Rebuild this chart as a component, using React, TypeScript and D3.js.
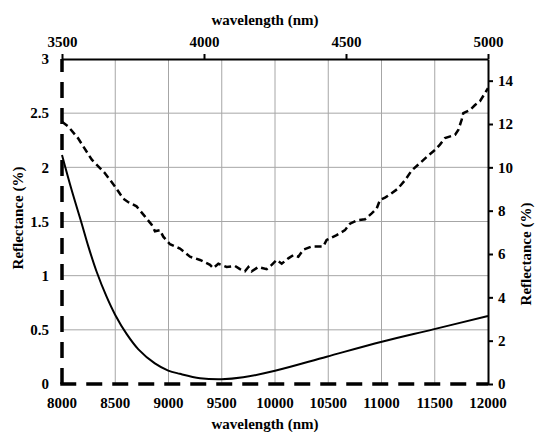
import React, { useRef, useEffect } from "react";
import * as d3 from "d3";

// dashed curve: bottom wavelength axis, left reflectance axis
const dashWl = [8000, 8060, 8150, 8280, 8400, 8500, 8576, 8620, 8700, 8780, 8842, 8873, 8920, 8951, 9014, 9108, 9202, 9296, 9390, 9420, 9468, 9546, 9624, 9671, 9718, 9750, 9781, 9844, 9922, 9969, 10016, 10063, 10125, 10172, 10219, 10266, 10344, 10453, 10485, 10579, 10657, 10704, 10767, 10845, 10908, 10955, 10986, 11033, 11080, 11150, 11220, 11283, 11362, 11440, 11502, 11549, 11596, 11690, 11721, 11753, 11768, 11831, 11878, 11925, 11987, 12000];
const dashRefl = [2.42, 2.375, 2.27, 2.07, 1.95, 1.82, 1.71, 1.68, 1.64, 1.545, 1.47, 1.41, 1.42, 1.36, 1.29, 1.25, 1.175, 1.145, 1.1, 1.07, 1.11, 1.08, 1.09, 1.06, 1.04, 1.08, 1.04, 1.08, 1.06, 1.1, 1.145, 1.11, 1.16, 1.19, 1.175, 1.24, 1.27, 1.27, 1.33, 1.375, 1.42, 1.48, 1.51, 1.52, 1.575, 1.62, 1.7, 1.72, 1.75, 1.8, 1.88, 1.97, 2.04, 2.11, 2.16, 2.21, 2.27, 2.3, 2.345, 2.44, 2.5, 2.53, 2.575, 2.61, 2.71, 2.73];

// solid curve: top wavelength axis, right reflectance axis
const solidWl = [3500, 3534, 3569, 3593, 3622, 3657, 3687, 3728, 3769, 3827, 3874, 3915, 3986, 4062, 4138, 4250, 4432, 4626, 4807, 5000];
const solidRefl = [10.57, 8.95, 7.42, 6.34, 5.18, 4.03, 3.2, 2.3, 1.6, 0.95, 0.62, 0.47, 0.27, 0.22, 0.31, 0.61, 1.26, 1.95, 2.52, 3.14];

const bottomTicks = [8000, 8500, 9000, 9500, 10000, 10500, 11000, 11500, 12000];
const topTicks = [3500, 4000, 4500, 5000];
const leftTicks = [0, 0.5, 1, 1.5, 2, 2.5, 3];
const rightTicks = [0, 2, 4, 6, 8, 10, 12, 14];

const W = 540, H = 432;
const L = 62, R = 488, T = 59, B = 384;
const font = "'Liberation Serif', Tinos, 'Times New Roman', 'DejaVu Serif', serif";

const App = () => {
    const ref = useRef(null);

    useEffect(() => {
        const svg = d3.select(ref.current);
        svg.selectAll("*").remove();

        const xB = d3.scaleLinear().domain([8000, 12000]).range([L, R]);
        const xT = d3.scaleLinear().domain([3500, 5000]).range([L, R]);
        const yL = d3.scaleLinear().domain([0, 3]).range([B, T]);
        const yR = d3.scaleLinear().domain([0, 15]).range([B, T]);

        svg.append("rect").attr("width", W).attr("height", H).attr("fill", "white");

        // grid
        const grid = svg.append("g").attr("stroke", "#a6a6a6").attr("stroke-width", 1);
        grid.selectAll(".vg").data(bottomTicks.slice(1, -1)).join("line")
            .attr("x1", d => xB(d)).attr("x2", d => xB(d))
            .attr("y1", T).attr("y2", B);
        grid.selectAll(".hg").data(leftTicks.slice(1, -1)).join("line")
            .attr("x1", L).attr("x2", R)
            .attr("y1", d => yL(d)).attr("y2", d => yL(d));

        // curves
        const dashData = dashWl.map((w, i) => [w, dashRefl[i]]);
        const solidData = solidWl.map((w, i) => [w, solidRefl[i]]);

        svg.append("path")
            .attr("d", d3.line().x(d => xB(d[0])).y(d => yL(d[1]))(dashData))
            .attr("fill", "none").attr("stroke", "black")
            .attr("stroke-width", 2.5).attr("stroke-dasharray", "7,4");

        svg.append("path")
            .attr("d", d3.line().curve(d3.curveCatmullRom).x(d => xT(d[0])).y(d => yR(d[1]))(solidData))
            .attr("fill", "none").attr("stroke", "black").attr("stroke-width", 2);

        const styleText = sel => sel.style("font-family", font).style("font-weight", "bold")
            .style("font-size", "15px").attr("fill", "black");

        // top axis
        const top = d3.axisTop(xT).tickValues(topTicks).tickSize(5).tickSizeOuter(0).tickFormat(d3.format("d"));
        svg.append("g").attr("transform", `translate(0,${T})`).call(top)
            .call(g => g.select(".domain").attr("stroke-width", 2))
            .call(g => g.selectAll(".tick line").attr("stroke-width", 2))
            .call(g => styleText(g.selectAll("text")).attr("dy", "-0.3em"));

        // right axis
        const right = d3.axisRight(yR).tickValues(rightTicks).tickSize(5).tickSizeOuter(0);
        svg.append("g").attr("transform", `translate(${R},0)`).call(right)
            .call(g => g.select(".domain").attr("stroke-width", 2))
            .call(g => g.selectAll(".tick line").attr("stroke-width", 2))
            .call(g => styleText(g.selectAll("text")).attr("x", 10));

        // left & bottom dashed axes
        svg.append("line").attr("x1", L).attr("x2", L).attr("y1", B).attr("y2", T)
            .attr("stroke", "black").attr("stroke-width", 3.5).attr("stroke-dasharray", "16,10");
        svg.append("line").attr("x1", L - 1.75).attr("x2", R).attr("y1", B).attr("y2", B)
            .attr("stroke", "black").attr("stroke-width", 3.5).attr("stroke-dasharray", "16,10");

        // left labels
        styleText(svg.append("g").selectAll("text").data(leftTicks).join("text")
            .text(d => d).attr("x", L - 13).attr("y", d => yL(d)).attr("dy", "0.35em")
            .attr("text-anchor", "end"));

        // bottom labels
        styleText(svg.append("g").selectAll("text").data(bottomTicks).join("text")
            .text(d => d).attr("x", d => xB(d)).attr("y", B + 19).attr("dy", "0.35em")
            .attr("text-anchor", "middle"));

        // titles
        const title = (x, y, rot, txt) => styleText(svg.append("text")
            .attr("transform", `translate(${x},${y}) rotate(${rot})`)
            .attr("text-anchor", "middle").attr("dy", "0.35em")
            .text(txt));
        title(265, 20, 0, "wavelength (nm)");
        title(265, 424, 0, "wavelength (nm)");
        title(18, 218, -90, "Reflectance (%)");
        title(526, 254, -90, "Reflectance (%)");
    }, []);

    return (
        <svg ref={ref} width={W} height={H} style={{ position: "absolute", left: 0, top: 0 }} />
    );
};

export default App;
